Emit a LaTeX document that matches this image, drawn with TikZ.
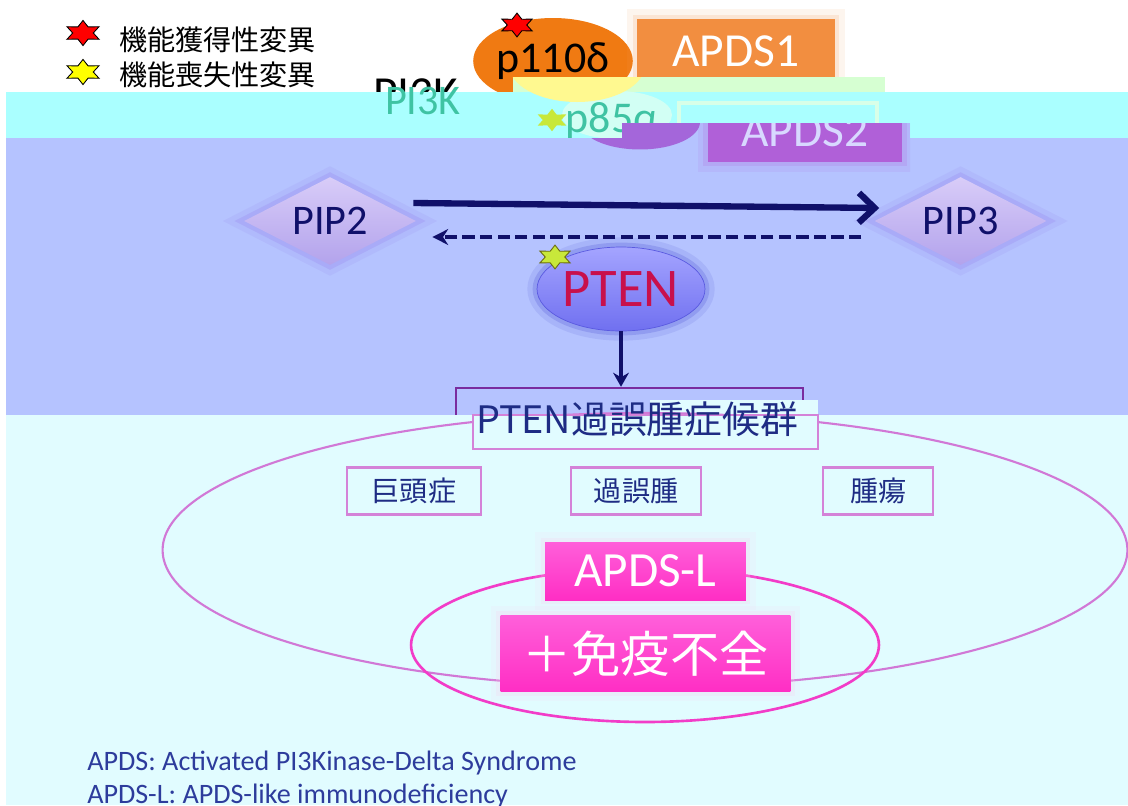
\documentclass[tikz,border=0pt]{standalone}
\usepackage{fontspec}
\setmainfont{Carlito}
\newfontfamily\cjk{Noto Sans CJK JP}
\usepackage{tikz}
\usetikzlibrary{arrows.meta,shapes.geometric,positioning}
\newcommand{\fsz}[1]{\fontsize{#1}{#1}\selectfont}
\definecolor{bandcyan}{HTML}{AAFFFF}
\definecolor{bandlav}{HTML}{B5C3FF}
\definecolor{paleground}{HTML}{E1FCFF}
\definecolor{gainred}{HTML}{FF0000}
\definecolor{lossyellow}{HTML}{FFFF00}
\definecolor{mutgreen}{HTML}{C8E83A}
\definecolor{mutEdge}{HTML}{6B6B10}
\definecolor{pOrange}{HTML}{F07A12}
\definecolor{apdsOrange}{HTML}{F28E40}
\definecolor{apdsGlow}{HTML}{F2A060}
\definecolor{tealtext}{HTML}{3FC3A3}
\definecolor{glitchgreen}{HTML}{D6FFD2}
\definecolor{glitchyellow}{HTML}{FFF990}
\definecolor{paleoval}{HTML}{D2FFF4}
\definecolor{paleline}{HTML}{D8FFE8}
\definecolor{ovalPurple}{HTML}{A466DA}
\definecolor{apdsPurple}{HTML}{B060D8}
\definecolor{apdsPale}{HTML}{D8D8FF}
\definecolor{navy}{HTML}{10106A}
\definecolor{pipTop}{HTML}{D8CCF8}
\definecolor{pipBottom}{HTML}{B3A3EC}
\definecolor{pipGlow}{HTML}{8C6CE6}
\definecolor{ptenTop}{HTML}{A4A4FF}
\definecolor{ptenBottom}{HTML}{7070F0}
\definecolor{ptenEdge}{HTML}{5A5AE0}
\definecolor{ptenGlow}{HTML}{3030C8}
\definecolor{ptenRed}{HTML}{C8104C}
\definecolor{outlinePurple}{HTML}{7A2C9E}
\definecolor{boxPink}{HTML}{D482D8}
\definecolor{boxText}{HTML}{1E2C84}
\definecolor{ovalPink}{HTML}{D178D6}
\definecolor{ovalMagenta}{HTML}{F23CC8}
\definecolor{pinkTop}{HTML}{FF5FDA}
\definecolor{hotPink}{HTML}{FF2EC4}
\definecolor{pinkGlow}{HTML}{FFC8EC}
\definecolor{noteBlue}{HTML}{2D3C9C}
\begin{document}
\begin{tikzpicture}[x=0.02cm, y=-0.02cm]
% STYLES
\tikzset{%
    mutation/.style={%
    star, star points=6, star point ratio=1.8,
    draw=black, line width=0.5pt,
    inner sep=0pt, minimum size=0.74cm, yscale=0.68},
    legendtext/.style={%
    anchor=west, font=\cjk\fsz{16}},
    glow/.style={%
    preaction={draw=#1, line width=11pt, opacity=0.1},
    preaction={draw=#1, line width=5pt, opacity=0.18}},
    subunit/.style={%
    ellipse, inner sep=0pt, font=\fsz{25}},
    apdsbox/.style={%
    rectangle, inner sep=0pt, text=white, font=\fsz{27},
    minimum width=3.96cm, minimum height=1.28cm},
    substrate/.style={%
    diamond, aspect=2, inner sep=0pt,
    minimum width=3.44cm, minimum height=1.76cm,
    top color=pipTop, bottom color=pipBottom,
    glow=pipGlow, text=navy, font=\fsz{24}},
    symptom/.style={%
    rectangle, draw=boxPink, line width=1.2pt, fill=paleground,
    minimum height=0.94cm, text=boxText, font=\cjk\fsz{16}},
    apdslbox/.style={%
    rectangle, inner sep=0pt, text=white,
    top color=pinkTop, bottom color=hotPink, glow=pinkGlow}
}
\fill[white] (0,0) rectangle (1128,805);
\useasboundingbox (0,0) rectangle (1128,805);
\clip (0,0) rectangle (1128,805);

% Legend
\node [mutation, fill=gainred] (gainstar) at (83,33) {};
\node [mutation, fill=lossyellow] (lossstar) at (83,72) {};
\node [legendtext] (gaintext) at (113,40) {機能獲得性変異};
\node [legendtext] (losstext) at (113,75) {機能喪失性変異};

% PI3K subunits
\node [subunit, fill=pOrange, minimum width=3.08cm, minimum height=1.72cm] (p110) at (553,61) {p110δ};
\node [mutation, fill=gainred, minimum size=0.7cm] (p110star) at (517,25) {};
\node [apdsbox, fill=apdsOrange, glow=apdsGlow] (apds1) at (736,51) {APDS1};
\node [font=\fsz{27}] (pikraw) at (416,94) {PI3K};

\fill[glitchgreen] (513,77) rectangle (885,92);
\fill[bandcyan] (6,92) rectangle (1128,138);
\fill[paleoval] (617,115) ellipse [x radius=55, y radius=24];
\draw[paleline, line width=2.5pt] (679,103) rectangle (877,140);
\begin{scope}
\clip (400,77) rectangle (900,138);
\fill[glitchyellow] (577,65) ellipse [x radius=68, y radius=37];
\end{scope}
\node [font=\fsz{24}, text=tealtext] (pik) at (423,101) {PI3K};
\node [font=\fsz{25}, text=tealtext] (p85) at (612,121) {p85α};
\node [mutation, fill=mutgreen, draw=none, minimum size=0.66cm] (p85star) at (552,120) {};

\fill[bandlav] (6,138) rectangle (1128,415);
\begin{scope}
\clip (622,123) -- (910,123) -- (910,200) -- (500,200) -- (500,138) -- (622,138) -- cycle;
\fill[bandlav] (622,123) rectangle (910,138);
\node [subunit, fill=ovalPurple, minimum width=2.4cm, minimum height=1.1cm] (p85oval) at (640,122) {};
\node [apdsbox, fill=apdsPurple, text=apdsPale, glow=apdsPurple, minimum width=3.9cm, minimum height=1.24cm] (apds2) at (805,131) {APDS2};
\end{scope}

% Draw substrates and PTEN
\node [substrate] (pip2) at (330,221) {PIP2};
\node [substrate, right=9.16cm of pip2] (pip3) {PIP3};
\node [subunit, minimum width=3.36cm, minimum height=1.68cm, top color=ptenTop, bottom color=ptenBottom,
       draw=ptenEdge, glow=ptenGlow, text=ptenRed, font=\fsz{31}] (pten) at (621,289) {PTEN};
\node [mutation, fill=mutgreen, draw=mutEdge, minimum size=0.7cm] (ptenstar) at (555,257) {};
\node [draw=outlinePurple, line width=1.4pt, minimum width=6.94cm, minimum height=1.04cm] (ptenoutline) at (629.5,414) {};

% Draw the links
\path [navy, line width=3.6pt, -{Straight Barb[length=9pt, width=17pt]}]
([shift={(-3,-18)}]pip2.east) edge ([shift={(5,-13)}]pip3.west);
\path [navy, line width=2.2pt, dash pattern=on 7pt off 3pt, -{Stealth[length=9pt, width=9pt]}]
([shift={(-13,16)}]pip3.west) edge ([shift={(16,16)}]pip2.east);
\path [navy, line width=2.6pt, -{Stealth[length=8pt, width=9pt]}]
(pten.south) edge (pten.south |- ptenoutline.north);

% Syndromes
\fill[paleground] (6,415) rectangle (1128,805);
\fill[paleground] (650,400) rectangle (818,415);
\node [ellipse, draw=ovalPink, line width=1.2pt, inner sep=0pt, minimum width=19.3cm, minimum height=5.48cm] (phtsoval) at (645,550) {};
\node [ellipse, draw=ovalMagenta, line width=1.5pt, inner sep=0pt, minimum width=9.36cm, minimum height=3.08cm] (apdsloval) at (645,645) {};
\node [symptom, minimum width=6.9cm, minimum height=0.68cm] (phtsbox) at (645.5,432) {};
\node [symptom, minimum width=2.68cm] (macro) at (414,491) {巨頭症};
\node [symptom, minimum width=2.6cm, right=1.76cm of macro] (hamart) {過誤腫};
\node [symptom, minimum width=2.2cm, right=2.4cm of hamart] (tumor) {腫瘍};
\node [apdslbox, minimum width=4.02cm, minimum height=1.16cm, font=\fsz{28}] (apdsl) at (645.5,571) {APDS-L};
\node [apdslbox, minimum width=5.8cm, minimum height=1.52cm, font=\cjk\fsz{28}, below=0.3cm of apdsl] (immuno) {＋免疫不全};
\node [text=boxText, font=\cjk\fsz{21.5}] (phtslabel) at (637,419) {PTEN過誤腫症候群};

% Notes
\node [anchor=base west, font=\fsz{16}, text=noteBlue, inner sep=0pt] (noteapds) at (87,770) {APDS: Activated PI3Kinase-Delta Syndrome};
\node [anchor=base west, font=\fsz{16}, text=noteBlue, inner sep=0pt] (noteapdsl) at (87,803) {APDS-L: APDS-like immunodeficiency};
\end{tikzpicture}
\end{document}
